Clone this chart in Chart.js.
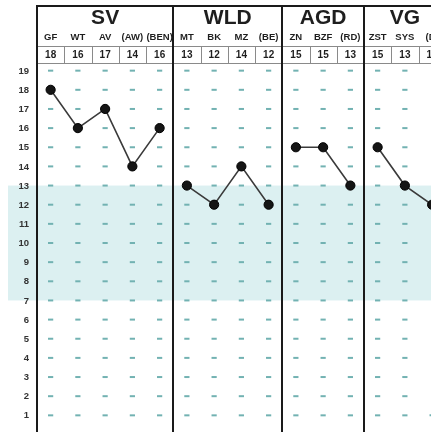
<!DOCTYPE html>
<html>
<head>
<meta charset="utf-8">
<script src="https://cdn.jsdelivr.net/npm/chart.js@4.4.0/dist/chart.umd.min.js"></script>
<style>
  html, body { margin: 0; padding: 0; background: #fff; overflow: hidden; }
  canvas { display: block; }
</style>
</head>
<body>
<canvas id="c" width="431" height="432"></canvas>
<script>
const groups = ['SV', 'WLD', 'AGD', 'VG'];
const groupSizes = [5, 4, 3, 3];
const categories = ['GF', 'WT', 'AV', '(AW)', '(BEN)', 'MT', 'BK', 'MZ', '(BE)', 'ZN', 'BZF', '(RD)', 'ZST', 'SYS', '(D)'];
const svValues = [18, 16, 17, 14, 16];
const wldValues = [13, 12, 14, 12];
const agdValues = [15, 15, 13];
const vgValues = [15, 13, 12];
const yTickLabels = [1, 2, 3, 4, 5, 6, 7, 8, 9, 10, 11, 12, 13, 14, 15, 16, 17, 18, 19];
const normalBand = [7, 13];

const groupValues = [svValues, wldValues, agdValues, vgValues];
const allValues = [].concat(...groupValues);

// dash marks at each integer level in each column
const dashData = [];
categories.forEach((c, i) => yTickLabels.forEach(t => dashData.push({ x: i, y: t })));

let start = 0;
const lineSets = groupValues.map((vals, g) => {
  const s = start;
  start += groupSizes[g];
  return {
    label: groups[g],
    data: vals.map((v, k) => ({ x: s + k, y: v })),
    showLine: true,
    borderColor: '#3a3a3a',
    borderWidth: 1.6,
    pointRadius: 4.6,
    pointBackgroundColor: '#151515',
    pointBorderColor: '#000',
    pointBorderWidth: 1,
    order: 1,
    clip: false
  };
});

const FONT = '"Liberation Sans", Arial, sans-serif';

const headerPlugin = {
  id: 'header',
  beforeDraw(chart) {
    const ctx = chart.ctx;
    ctx.save();
    ctx.fillStyle = '#fff';
    ctx.fillRect(0, 0, chart.width, chart.height);
    ctx.restore();
  },
  beforeDatasetsDraw(chart) {
    const ctx = chart.ctx;
    const xs = chart.scales.x, ys = chart.scales.y;
    const W = chart.width;
    const area = chart.chartArea;
    ctx.save();
    // band
    const yTop = ys.getPixelForValue(normalBand[1]);
    const yBot = ys.getPixelForValue(normalBand[0]);
    ctx.fillStyle = '#dcf0f1';
    ctx.fillRect(8, yTop, W - 8, yBot - yTop);

    // y tick labels
    ctx.fillStyle = '#333';
    ctx.font = 'bold 9.5px ' + FONT;
    ctx.textAlign = 'right';
    ctx.textBaseline = 'middle';
    yTickLabels.forEach(t => ctx.fillText(String(t), 29, ys.getPixelForValue(t) + 0.5));

    const colL = i => xs.getPixelForValue(i - 0.5);
    const headTop = 6, rowTop = 46, rowBot = 63;

    // value row boxes
    ctx.strokeStyle = '#8a8a8a';
    ctx.lineWidth = 1;
    ctx.beginPath();
    ctx.moveTo(area.left, rowTop + 0.5); ctx.lineTo(W, rowTop + 0.5);
    ctx.moveTo(area.left, rowBot + 0.5); ctx.lineTo(W, rowBot + 0.5);
    for (let i = 1; i < categories.length; i++) {
      const x = Math.round(colL(i)) + 0.5;
      ctx.moveTo(x, rowTop); ctx.lineTo(x, rowBot);
    }
    ctx.stroke();

    // texts
    ctx.fillStyle = '#1e1e1e';
    ctx.textAlign = 'center';
    ctx.textBaseline = 'middle';
    ctx.font = 'bold 9.5px ' + FONT;
    categories.forEach((c, i) => ctx.fillText(c, xs.getPixelForValue(i), 37));
    ctx.font = 'bold 10px ' + FONT;
    allValues.forEach((v, i) => ctx.fillText(String(v), xs.getPixelForValue(i), 55));
    ctx.font = 'bold 21px ' + FONT;
    let s = 0;
    groups.forEach((g, k) => {
      const cx = (colL(s) + colL(s + groupSizes[k])) / 2;
      ctx.fillText(g, cx, 18);
      s += groupSizes[k];
    });

    // thick borders
    ctx.strokeStyle = '#1a1a1a';
    ctx.lineWidth = 2;
    ctx.beginPath();
    ctx.moveTo(area.left, headTop); ctx.lineTo(W, headTop);
    s = 0;
    for (let k = 0; k <= groups.length; k++) {
      const x = Math.round(colL(s));
      ctx.moveTo(x, headTop - 1); ctx.lineTo(x, chart.height);
      if (k < groups.length) s += groupSizes[k];
    }
    ctx.stroke();
    ctx.restore();
  }
};

// column width 27.25px from left edge 37px; canvas is 431 wide so the last column is cut
const visibleColumns = (431 - 37) / 27.25;

new Chart(document.getElementById('c'), {
  type: 'scatter',
  data: {
    datasets: [
      ...lineSets,
      {
        label: 'levels',
        data: dashData,
        pointStyle: 'line',
        pointRadius: 2.6,
        pointBorderWidth: 2,
        pointBorderColor: '#72b2b2',
        pointBackgroundColor: '#72b2b2',
        showLine: false,
        order: 2
      }
    ]
  },
  options: {
    responsive: false,
    animation: false,
    devicePixelRatio: 1,
    layout: { autoPadding: false, padding: { left: 37, top: 63, right: 0, bottom: 0 } },
    plugins: { legend: { display: false }, tooltip: { enabled: false } },
    scales: {
      x: { type: 'linear', min: -0.5, max: visibleColumns - 0.5, display: false },
      y: { type: 'linear', min: 0.13, max: 19.4, display: false }
    },
    events: []
  },
  plugins: [headerPlugin]
});
</script>
</body>
</html>
